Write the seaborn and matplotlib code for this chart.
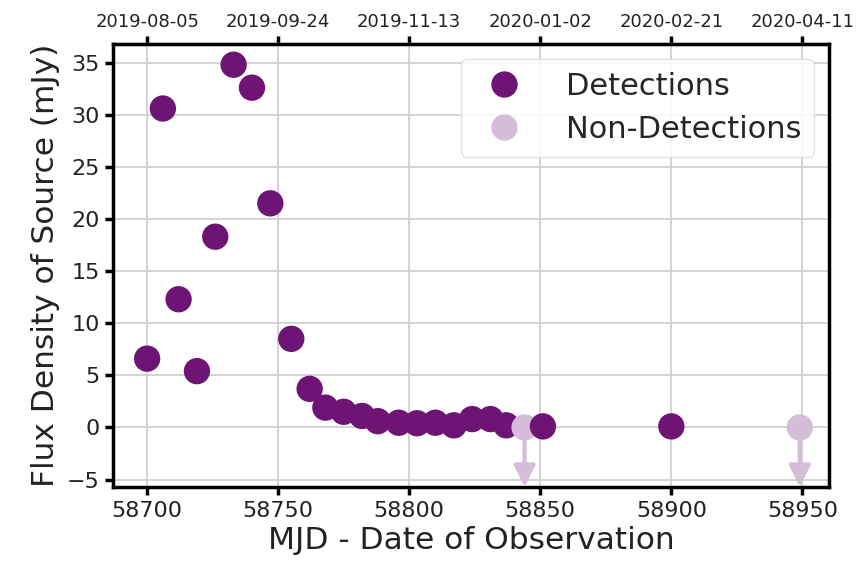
import numpy as np
import pandas as pd
import matplotlib
matplotlib.use("Agg")
import matplotlib.pyplot as plt
import seaborn as sns

# ---- data ----
det_mjd = [58700, 58706, 58712, 58719, 58726, 58733, 58740, 58747, 58755, 58762,
           58768, 58775, 58782, 58788, 58796, 58803, 58810, 58817, 58824, 58831,
           58837, 58851, 58900]
det_flux = [6.6, 30.6, 12.3, 5.4, 18.3, 34.8, 32.6, 21.5, 8.5, 3.7,
            1.9, 1.5, 1.1, 0.6, 0.45, 0.4, 0.45, 0.2, 0.8, 0.8,
            0.2, 0.1, 0.1]
nondet_mjd = [58844, 58949]
nondet_flux = [0.0, 0.0]
arrow_len = 5.7

x_ticks = [58700, 58750, 58800, 58850, 58900, 58950]
top_labels = ["2019-08-05", "2019-09-24", "2019-11-13", "2020-01-02", "2020-02-21", "2020-04-11"]
y_ticks = [-5, 0, 5, 10, 15, 20, 25, 30, 35]

det_color = "#6e1474"
nondet_color = "#d5bdd9"

df = pd.DataFrame({
    "mjd": det_mjd + nondet_mjd,
    "flux": det_flux + nondet_flux,
    "kind": ["Detections"] * len(det_mjd) + ["Non-Detections"] * len(nondet_mjd),
}).sort_values("mjd")

sns.set_style("whitegrid")
plt.rcParams["font.family"] = ["DejaVu Sans"]

fig = plt.figure(figsize=(8.61, 5.70), dpi=100)
ax = fig.add_axes([0.131, 0.145, 0.832, 0.778])

# upper-limit arrows
for xm, ym in zip(nondet_mjd, nondet_flux):
    ax.annotate("", xy=(xm, ym - arrow_len), xytext=(xm, ym),
                arrowprops=dict(arrowstyle="-|>", color=nondet_color, lw=3,
                                mutation_scale=32, shrinkA=0, shrinkB=0),
                zorder=2)

sns.scatterplot(data=df, x="mjd", y="flux", hue="kind",
                hue_order=["Detections", "Non-Detections"],
                palette={"Detections": det_color, "Non-Detections": nondet_color},
                s=360, edgecolor="none", linewidth=0, ax=ax, zorder=3)

ax.set_xlim(58686.9, 58960.2)
ax.set_ylim(-5.75, 36.8)
ax.set_xticks(x_ticks)
ax.set_yticks(y_ticks)
ax.grid(True, color="#d0d0d0", lw=1.3)
ax.set_axisbelow(True)

for sp in ax.spines.values():
    sp.set_color("black")
    sp.set_linewidth(2.5)
    sp.set_visible(True)

ax.tick_params(axis="both", which="major", direction="out", length=6, width=2.5,
               color="black", labelsize=16, labelcolor="#222222", bottom=True, left=True)

ax.set_xlabel("MJD - Date of Observation", fontsize=22.5, color="#222222", labelpad=4)
ax.set_ylabel("Flux Density of Source (mJy)", fontsize=22.5, color="#222222", labelpad=5)

secax = ax.secondary_xaxis("top")
secax.set_xticks(x_ticks, labels=top_labels)
secax.tick_params(direction="out", length=6, width=2.5, color="black",
                  labelsize=13, labelcolor="#222222")
secax.spines["top"].set_linewidth(2.5)

leg = ax.legend(loc="upper right", fontsize=22, markerscale=1.0, frameon=True,
                borderaxespad=0.5, handlelength=2.0, handletextpad=1.0,
                borderpad=0.42, labelspacing=0.45, fancybox=True, framealpha=0.85,
                edgecolor="#dddddd", title=None)

fig.savefig("out.png", dpi=100)
